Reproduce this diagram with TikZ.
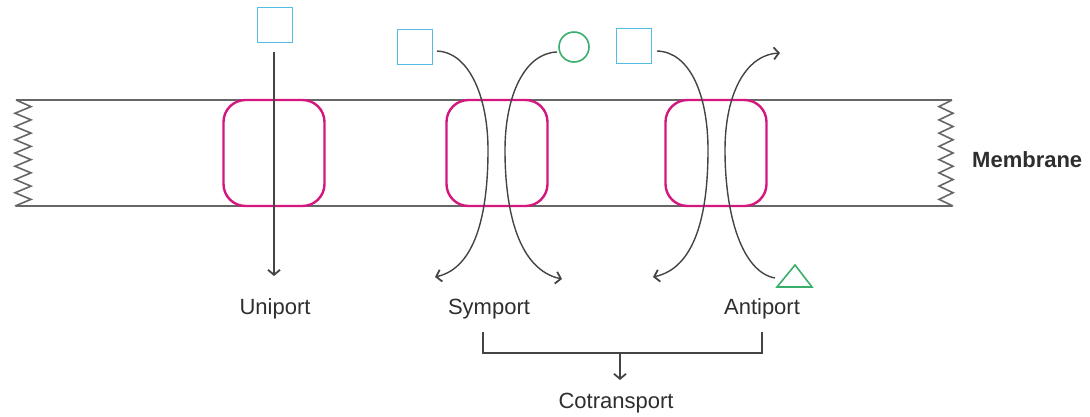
\documentclass[tikz,border=0pt]{standalone}
\usepackage{fontspec}
\setmainfont{Liberation Sans}
\usetikzlibrary{arrows.meta}
\definecolor{linegray}{HTML}{444444}
\definecolor{memgray}{HTML}{666666}
\definecolor{magentaC}{HTML}{D4167F}
\definecolor{blueC}{HTML}{55BCE2}
\definecolor{greenC}{HTML}{3AAE6C}
\definecolor{textgray}{HTML}{2E2E2E}
\begin{document}
\begin{tikzpicture}[x=1pt,y=-1pt,
  mem/.style={draw=memgray, line width=1.6pt},
  porter/.style={draw=magentaC, line width=2.4pt, rounded corners=22pt, minimum width=101pt, minimum height=106pt, inner sep=0pt},
  sq/.style={draw=blueC, line width=1.6pt, minimum size=35pt, inner sep=0pt},
  circ/.style={draw=greenC, line width=1.6pt, circle, minimum size=30pt, inner sep=0pt},
  flow/.style={draw=linegray, line width=1.4pt, -{Straight Barb[length=5pt,width=12pt,line width=1.8pt]}},
  brk/.style={draw=linegray, line width=1.4pt},
  lbl/.style={font=\fontsize{22}{26}\selectfont, text=textgray, inner sep=0pt}
]
\useasboundingbox (0,0) rectangle (1090,416);

% membrane
\draw[mem] (16,100) -- (952,100);
\draw[mem] (16,206) -- (952,206);
\draw[mem, line join=miter] (16,100) \foreach \i in {1,...,8} { -- (31,{100+(\i-0.5)*13.25}) -- (15,{100+\i*13.25}) };
\draw[mem, line join=miter] (952,100) \foreach \i in {1,...,8} { -- (939,{100+(\i-0.5)*13.25}) -- (953,{100+\i*13.25}) };
\node[font=\bfseries\fontsize{22}{26}\selectfont, text=textgray, anchor=west, inner sep=0pt] (memlbl) at (972,160) {Membrane};

% porters
\node[porter] (p1) at (274,153) {};
\node[porter] (p2) at (497,153) {};
\node[porter] (p3) at (716,153) {};

% molecules
\node[sq] (usq) at (275,25) {};
\node[sq] (ssq) at (415,47) {};
\node[circ] (scirc) at (574,47) {};
\node[sq] (asq) at (634,46) {};
\draw[draw=greenC, line width=1.6pt, line join=miter] (777,287) -- (795,265) -- (812,287) -- cycle;
\coordinate (atri) at (775,278);

% connector end points
\coordinate (u1) at (274,52);
\coordinate (u2) at (274,276);
\coordinate (s1a) at (437,51);
\coordinate (s1b) at (435,277);
\coordinate (s2a) at (557,52);
\coordinate (s2b) at (562,279);
\coordinate (a1a) at (657,51);
\coordinate (a1b) at (653,277);
\coordinate (a2b) at (780,53);

% flows
\draw[flow] (u1) -- (u2);
\draw[flow] (s1a) .. controls (468,52) and (488,95) .. (488,150) .. controls (488,215) and (475,268) .. (s1b);
\draw[flow] (s2a) .. controls (525,53) and (505,95) .. (505,150) .. controls (505,215) and (520,270) .. (s2b);
\draw[flow] (a1a) .. controls (690,52) and (708,95) .. (708,150) .. controls (708,215) and (695,268) .. (a1b);
\draw[flow] (atri) .. controls (742,272) and (725,215) .. (725,150) .. controls (725,95) and (745,55) .. (a2b);

% labels
\node[lbl] (uni) at (275,309) {Uniport};
\node[lbl] (sym) at (489,309) {Symport};
\node[lbl] (anti) at (762,309) {Antiport};
\node[lbl] (cot) at (616,403) {Cotransport};

% bracket
\coordinate (bl) at (483,332);
\coordinate (br) at (762,332);
\coordinate (bm) at (620,353);
\draw[brk] (bl) -- (483,353) -- (762,353) -- (br);
\draw[flow] (bm) -- (620,380);
\end{tikzpicture}
\end{document}
